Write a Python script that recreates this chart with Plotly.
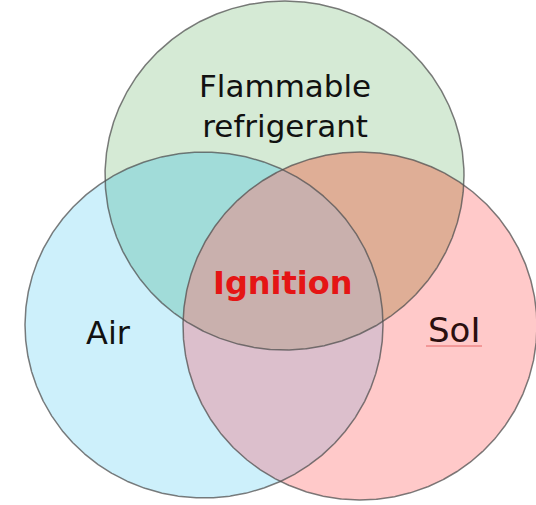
import numpy as np
import plotly.graph_objects as go

# ---- content ----
set_labels = ["Flammable<br>refrigerant", "Air", "SoI"]
center_label = "Ignition"

# region fill colours
set_colors = ["#d5ead5", "#cdf0fb", "#ffc9c9"]          # green, blue, pink (single sets)
pair_keys = [(0, 1), (0, 2), (1, 2)]
pair_colors = ["#a1dcd9", "#dfae96", "#dcbfcc"]        # green∩blue, green∩pink, blue∩pink
triple_color = "#c9b0ad"

# ---- geometry (pixel space of the 536x505 window) ----
W, H = 536, 505
ellipses = [  # cx, cy, rx, ry
    (284.5, 175.5, 179.5, 174.5),
    (204.0, 325.0, 179.0, 173.0),
    (360.0, 326.0, 177.0, 174.0),
]

t = np.linspace(0, 2 * np.pi, 1441)


def boundary(e):
    cx, cy, rx, ry = e
    return cx + rx * np.cos(t), cy + ry * np.sin(t)


def inside(e, x, y):
    cx, cy, rx, ry = e
    return ((x - cx) / rx) ** 2 + ((y - cy) / ry) ** 2 <= 1.0 + 1e-9


def intersection(idx):
    xs, ys = [], []
    for i in idx:
        x, y = boundary(ellipses[i])
        m = np.ones_like(x, dtype=bool)
        for j in idx:
            if j != i:
                m &= inside(ellipses[j], x, y)
        xs.append(x[m]); ys.append(y[m])
    x = np.concatenate(xs); y = np.concatenate(ys)
    mx, my = x.mean(), y.mean()
    order = np.argsort(np.arctan2(y - my, x - mx))
    x, y = x[order], y[order]
    return np.append(x, x[0]), np.append(y, y[0])


fig = go.Figure()

# single sets
for e, c in zip(ellipses, set_colors):
    x, y = boundary(e)
    fig.add_trace(go.Scatter(x=x, y=y, mode="lines", fill="toself", fillcolor=c,
                             line=dict(width=0), hoverinfo="skip", showlegend=False))
# pairwise overlaps
for (a, b), c in zip(pair_keys, pair_colors):
    x, y = intersection([a, b])
    fig.add_trace(go.Scatter(x=x, y=y, mode="lines", fill="toself", fillcolor=c,
                             line=dict(width=0), hoverinfo="skip", showlegend=False))
# triple overlap
x, y = intersection([0, 1, 2])
fig.add_trace(go.Scatter(x=x, y=y, mode="lines", fill="toself", fillcolor=triple_color,
                         line=dict(width=0), hoverinfo="skip", showlegend=False))
# outlines
for e in ellipses:
    x, y = boundary(e)
    fig.add_trace(go.Scatter(x=x, y=y, mode="lines",
                             line=dict(color="rgba(80,80,80,0.75)", width=1.5),
                             hoverinfo="skip", showlegend=False))

font = "DejaVu Sans"
fig.add_annotation(x=285, y=106, text=set_labels[0], showarrow=False,
                   font=dict(family=font, size=31, color="#111111"))
fig.add_annotation(x=108, y=333, text=set_labels[1], showarrow=False,
                   font=dict(family=font, size=32, color="#111111"))
fig.add_annotation(x=454, y=330, text=set_labels[2], showarrow=False,
                   font=dict(family=font, size=34, color="#2a0f0f"))
fig.add_annotation(x=283, y=283, text="<b>" + center_label + "</b>", showarrow=False,
                   font=dict(family=font, size=32, color="#e51515"))
# spell-check style underline under "SoI"
fig.add_shape(type="line", x0=426, x1=482, y0=346, y1=346,
              line=dict(color="rgba(220,60,60,0.7)", width=1))

fig.update_layout(
    width=W, height=H,
    margin=dict(l=0, r=0, t=0, b=0),
    paper_bgcolor="white", plot_bgcolor="white",
    xaxis=dict(range=[0, W], visible=False, fixedrange=True),
    yaxis=dict(range=[H, 0], visible=False, fixedrange=True),
)
fig.write_html("out.html",
               config={"displayModeBar": False, "staticPlot": True},
               post_script="document.body.style.margin='0';document.body.style.overflow='hidden';")
